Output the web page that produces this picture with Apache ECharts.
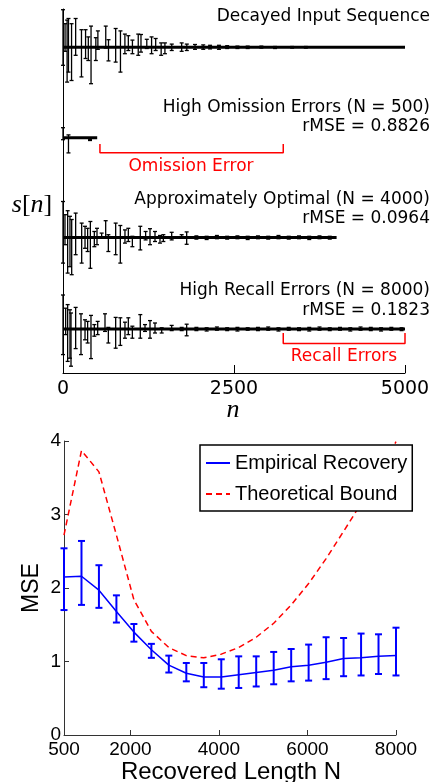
<!DOCTYPE html>
<html><head><meta charset="utf-8">
<script src="https://cdn.jsdelivr.net/npm/echarts@6/dist/echarts.min.js"></script>
<style>html,body{margin:0;padding:0;background:#fff}#c{width:433px;height:782px}</style>
</head><body><div id="c"></div>
<script>
// ---------- top panel: stem / error-bar rows ----------
const rowEnds = [5000, 500, 4000, 5000];
const row1N  = [0,30,60,80,125,185,270,330,370,410,480,510,625,665,770,840,905,955,1015,1100,1140,1225,1295,1355,1435,1490,1590,1735,1810,1930,2050,2150,2280,2400,2550,2700,2900,3100,3350,3550];
const row1Hi = [0.94,0.59,0.68,0.72,0.59,0.72,0.44,0.44,0.26,0.53,0.24,0.41,0.53,0.19,0.47,0.41,0.33,0.29,0.18,0.33,0.32,0.20,0.26,0.22,0.11,0.11,0.08,0.11,0.08,0.07,0.06,0.05,0.05,0.04,0.03,0.03,0.03,0.02,0.02,0.02];
const row1Lo = [-0.45,-0.10,-0.87,-0.62,-0.83,-0.20,-0.74,-0.28,-0.33,-0.91,-0.33,-0.05,-0.02,-0.34,-0.37,-0.62,-0.16,-0.08,-0.16,-0.20,-0.12,-0.03,-0.16,-0.08,-0.20,-0.16,-0.08,-0.10,-0.08,-0.05,-0.05,-0.04,-0.05,-0.03,-0.03,-0.03,-0.02,-0.03,-0.02,-0.02];

const row2N  = [0, 80, 395];
const row2Hi = [0.25, 0.07, -0.04];
const row2Lo = [-0.05, -0.38, -0.07];

const row3N  = [0,29,68,102,127,185,273,322,360,400,458,497,565,624,663,770,838,906,955,1014,1130,1208,1272,1345,1418,1467,1589,1735,1808,1950,2100,2250,2400,2550,2700,2850,3000,3150,3300,3450,3600,3750,3900];
const row3Hi = [0.90,0.57,0.67,0.53,0.45,0.61,0.36,0.28,0.23,0.40,0.15,0.23,0.11,0.42,0.07,0.36,0.30,0.19,0.23,0.03,0.28,0.15,0.22,0.15,0.05,0.07,0.13,0.07,0.14,0.04,0.03,0.05,0.03,0.04,0.03,0.04,0.03,0.05,0.03,0.04,0.03,0.04,0.03];
const row3Lo = [-0.64,-0.18,-0.89,-0.73,-0.93,-0.43,-0.64,-0.27,-0.35,-0.77,-0.23,-0.18,-0.02,-0.02,-0.35,-0.43,-0.64,-0.14,-0.10,-0.23,-0.31,-0.06,-0.18,-0.10,-0.14,-0.10,-0.06,-0.02,-0.17,-0.04,-0.05,-0.03,-0.04,-0.03,-0.05,-0.03,-0.04,-0.03,-0.04,-0.03,-0.05,-0.03,-0.04];

const row4N  = [0,39,68,102,117,185,263,322,360,409,458,507,614,663,770,838,906,955,1014,1130,1199,1272,1345,1443,1589,1735,1808,1950,2100,2250,2400,2550,2700,2850,3000,3150,3300,3450,3600,3750,3900,4050,4200,4350,4500,4650,4800,4950];
const row4Hi = [0.85,0.52,0.61,0.48,0.40,0.54,0.38,0.23,0.19,0.34,0.11,0.19,0.38,0.04,0.29,0.28,0.17,0.28,0.07,0.36,0.11,0.21,0.15,0.03,0.09,0.04,0.12,0.04,0.03,0.05,0.03,0.04,0.03,0.04,0.05,0.03,0.04,0.03,0.04,0.05,0.03,0.04,0.03,0.05,0.04,0.03,0.04,0.03];
const row4Lo = [-0.64,-0.14,-0.81,-0.73,-0.93,-0.49,-0.64,-0.27,-0.35,-0.74,-0.18,-0.14,-0.06,-0.35,-0.48,-0.41,-0.23,-0.14,-0.23,-0.23,-0.06,-0.23,-0.10,-0.10,-0.04,-0.04,-0.17,-0.04,-0.05,-0.03,-0.04,-0.05,-0.03,-0.04,-0.03,-0.05,-0.03,-0.04,-0.05,-0.03,-0.04,-0.03,-0.05,-0.03,-0.04,-0.05,-0.03,-0.04];

const rowsN  = [row1N, row2N, row3N, row4N];
const rowsHi = [row1Hi, row2Hi, row3Hi, row4Hi];
const rowsLo = [row1Lo, row2Lo, row3Lo, row4Lo];
const rowBaselines = [47.3, 137.7, 237.5, 329];   // pixel centre of each row
const topTicks = [0, 2500, 5000];

// brackets (annotation) in row units
const omissionBracket = [[540,-0.16],[540,-0.375],[3220,-0.375],[3220,-0.16]];
const recallBracket   = [[3220,-0.10],[3220,-0.36],[5000,-0.36],[5000,-0.10]];

// ---------- bottom panel ----------
const lengthN   = [500,895,1289,1684,2079,2474,2868,3263,3658,4053,4447,4842,5237,5632,6026,6421,6816,7211,7605,8000];
const mseMean   = [2.15,2.16,1.97,1.68,1.40,1.16,0.95,0.84,0.79,0.79,0.82,0.85,0.88,0.93,0.95,0.99,1.04,1.05,1.07,1.08];
const mseUpper  = [2.54,2.64,2.31,1.90,1.51,1.24,1.08,0.98,0.98,1.03,1.07,1.07,1.13,1.17,1.23,1.33,1.32,1.38,1.37,1.46];
const mseLower  = [1.70,1.77,1.73,1.53,1.27,1.05,0.85,0.73,0.65,0.63,0.64,0.66,0.69,0.73,0.74,0.76,0.80,0.81,0.83,0.81];
const mseBound  = [2.72,3.87,3.58,2.72,1.84,1.41,1.19,1.08,1.05,1.10,1.19,1.33,1.52,1.77,2.06,2.40,2.77,3.15,3.56,3.99];
const bottomTicks = [500, 2000, 4000, 6000, 8000];

function errRender(capHalf, color, width) {
  return function (params, api) {
    const x = api.value(0), lo = api.value(1), hi = api.value(2);
    const p1 = api.coord([x, hi]), p2 = api.coord([x, lo]);
    const st = { stroke: color, lineWidth: width };
    return { type: 'group', children: [
      { type: 'line', shape: { x1: p1[0], y1: p1[1], x2: p2[0], y2: p2[1] }, style: st },
      { type: 'line', shape: { x1: p1[0] - capHalf, y1: p1[1], x2: p1[0] + capHalf, y2: p1[1] }, style: st },
      { type: 'line', shape: { x1: p2[0] - capHalf, y1: p2[1], x2: p2[0] + capHalf, y2: p2[1] }, style: st }
    ]};
  };
}
const plain = v => String(v);

const TF = 'DejaVu Sans';
const BF = 'Liberation Sans';
const grids = [{ left: 63, top: 9, width: 342, height: 364 }];
const xAxes = [{
  gridIndex: 0, type: 'value', min: 0, max: 5000, interval: 2500,
  axisLine: { lineStyle: { color: '#000', width: 1 } },
  axisTick: { inside: true, length: 8, lineStyle: { color: '#000' } },
  axisLabel: { fontFamily: TF, fontSize: 19, color: '#000', margin: 7, formatter: plain },
  splitLine: { show: false }
}];
const yAxes = [{
  gridIndex: 0, type: 'value', min: 0, max: 1,
  axisLine: { show: true, lineStyle: { color: '#000', width: 1 } },
  axisTick: { show: false }, axisLabel: { show: false }, splitLine: { show: false }
}];
const series = [];
for (let i = 0; i < 4; i++) {
  grids.push({ left: 63, width: 342, top: rowBaselines[i] - 40, height: 80 });
  xAxes.push({ gridIndex: i + 1, type: 'value', min: 0, max: 5000, show: false });
  yAxes.push({ gridIndex: i + 1, type: 'value', min: -1, max: 1, show: false });
  series.push({
    type: 'custom', xAxisIndex: i + 1, yAxisIndex: i + 1, silent: true,
    renderItem: errRender(2, '#000', 1.3),
    data: rowsN[i].map((n, k) => [n, rowsLo[i][k], rowsHi[i][k]]),
    encode: { x: 0, y: [1, 2] }, z: 3
  });
  series.push({
    type: 'line', xAxisIndex: i + 1, yAxisIndex: i + 1, symbol: 'none', silent: true,
    data: [[0, 0], [rowEnds[i], 0]], lineStyle: { color: '#000', width: 3 }, z: 4
  });
}
series.push({ type: 'line', xAxisIndex: 2, yAxisIndex: 2, symbol: 'none', silent: true,
  data: omissionBracket, lineStyle: { color: '#ff0000', width: 1.5 } });
series.push({ type: 'line', xAxisIndex: 4, yAxisIndex: 4, symbol: 'none', silent: true,
  data: recallBracket, lineStyle: { color: '#ff0000', width: 1.5 } });

// bottom grid
grids.push({ left: 64, top: 441, width: 332, height: 294 });
xAxes.push({
  gridIndex: 5, type: 'value', min: 500, max: 8000,
  axisLine: { lineStyle: { color: '#333', width: 1 } },
  axisTick: { inside: true, length: 5, customValues: bottomTicks, lineStyle: { color: '#333' } },
  axisLabel: { customValues: bottomTicks, fontFamily: BF, fontSize: 19, color: '#000', margin: 5, formatter: plain },
  splitLine: { show: false }
});
yAxes.push({
  gridIndex: 5, type: 'value', min: 0, max: 4, interval: 1,
  axisLine: { show: true, lineStyle: { color: '#333', width: 1 } },
  axisTick: { show: true, inside: true, length: 5, lineStyle: { color: '#333' } },
  axisLabel: { fontFamily: BF, fontSize: 19, color: '#000', margin: 3, formatter: plain },
  splitLine: { show: false }
});
series.push({
  name: 'Empirical Recovery', type: 'line', xAxisIndex: 5, yAxisIndex: 5, symbol: 'none',
  data: lengthN.map((n, k) => [n, mseMean[k]]), lineStyle: { color: '#0000ff', width: 1.5 },
  itemStyle: { color: '#0000ff' }, z: 3
});
series.push({
  type: 'custom', xAxisIndex: 5, yAxisIndex: 5, silent: true,
  renderItem: errRender(3.5, '#0000ff', 2),
  data: lengthN.map((n, k) => [n, mseLower[k], mseUpper[k]]),
  encode: { x: 0, y: [1, 2] }, z: 3
});
series.push({
  name: 'Theoretical Bound', type: 'line', xAxisIndex: 5, yAxisIndex: 5, symbol: 'none',
  data: lengthN.map((n, k) => [n, mseBound[k]]),
  lineStyle: { color: '#ff0000', width: 1.5, type: [6, 4] }, itemStyle: { color: '#ff0000' }, z: 2
});

function txt(t, x, y, opts) {
  return { type: 'text', x: x, y: y, silent: true, style: Object.assign({
    text: t, fill: '#000', font: '17px "' + TF + '"', textAlign: 'right', textVerticalAlign: 'middle'
  }, opts || {}) };
}

const option = {
  animation: false,
  backgroundColor: '#fff',
  grid: grids, xAxis: xAxes, yAxis: yAxes, series: series,
  legend: {
    data: ['Empirical Recovery', 'Theoretical Bound'],
    orient: 'vertical', left: 200, top: 445,
    borderColor: '#000', borderWidth: 1.5, borderRadius: 0,
    padding: [8, 5, 7, 5], itemGap: 11, itemWidth: 24, itemHeight: 12, itemTextGap: 3,
    itemStyle: { opacity: 0 },
    textStyle: { fontFamily: BF, fontSize: 20, color: '#000' },
    backgroundColor: '#fff'
  },
  graphic: [
    txt('Decayed Input Sequence', 430, 17),
    txt('High Omission Errors (N = 500)', 430, 108),
    txt('rMSE = 0.8826', 430, 127),
    txt('Omission Error', 191, 167, { fill: '#ff0000', textAlign: 'center' }),
    txt('Approximately Optimal (N = 4000)', 430, 200),
    txt('rMSE = 0.0964', 430, 219),
    txt('High Recall Errors (N = 8000)', 430, 291),
    txt('rMSE = 0.1823', 430, 311),
    txt('Recall Errors', 344, 357, { fill: '#ff0000', textAlign: 'center' }),
    { type: 'text', x: 233, y: 410, silent: true, style: { text: 'n', fill: '#000',
      font: 'italic 26px "Liberation Serif"', textAlign: 'center', textVerticalAlign: 'middle' } },
    { type: 'text', x: 32, y: 205, silent: true, style: {
      text: '{i|s}{r|[}{i|n}{r|]}', textAlign: 'center', textVerticalAlign: 'middle', fill: '#000',
      rich: { i: { fontFamily: 'Liberation Serif', fontStyle: 'italic', fontSize: 26 },
              r: { fontFamily: 'Liberation Serif', fontSize: 26 } } } },
    { type: 'text', x: 32, y: 588, rotation: Math.PI / 2, silent: true, style: {
      text: 'MSE', fill: '#000', font: '23px "' + BF + '"', textAlign: 'center', textVerticalAlign: 'middle' } },
    { type: 'text', x: 231, y: 772, silent: true, style: {
      text: 'Recovered Length N', fill: '#000', font: '24px "' + BF + '"', textAlign: 'center', textVerticalAlign: 'middle' } }
  ]
};
const chart = echarts.init(document.getElementById('c'), null, { renderer: 'canvas' });
chart.setOption(option);
</script></body></html>
